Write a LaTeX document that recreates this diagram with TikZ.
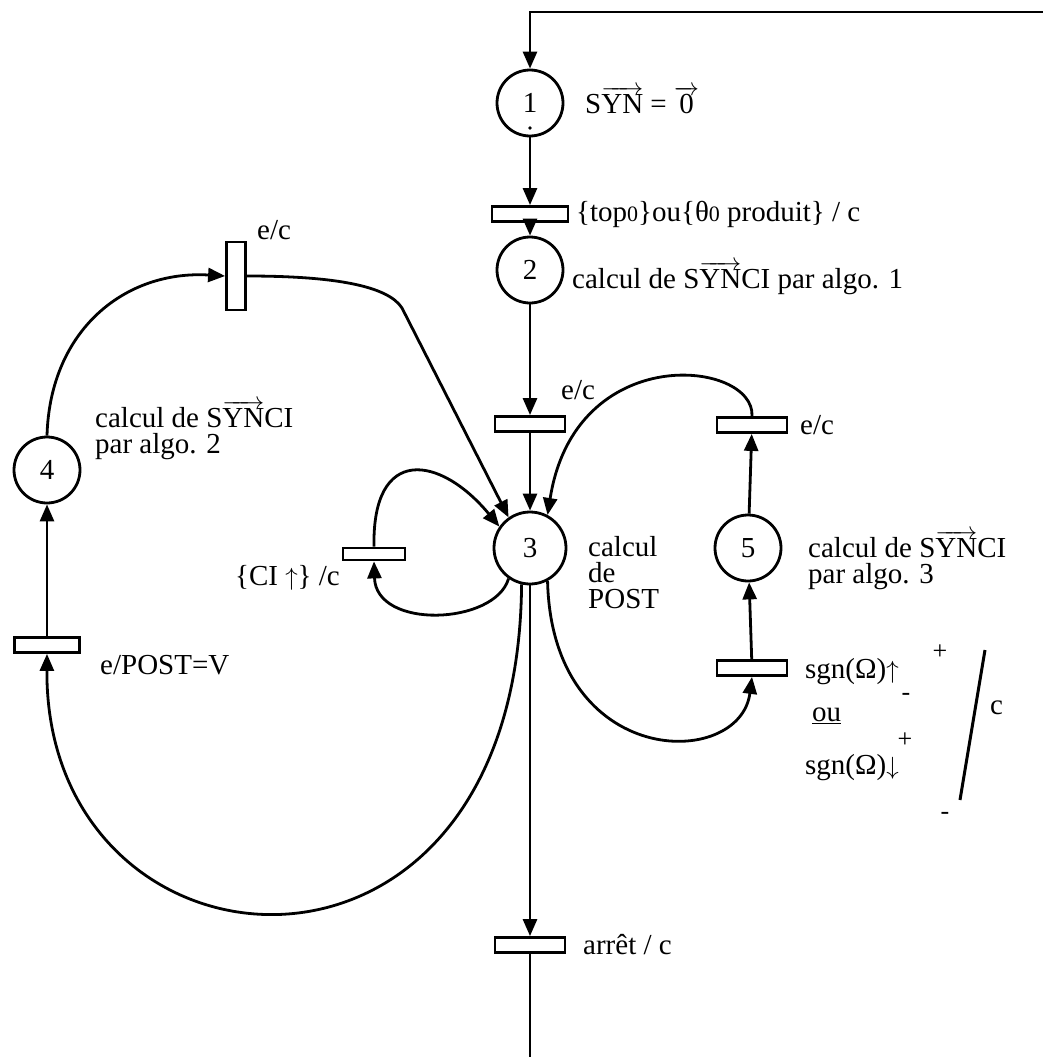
\documentclass[tikz,border=0pt]{standalone}
\usepackage{fontspec}
\setmainfont{Liberation Serif}
\usetikzlibrary{arrows.meta}
\tikzset{
  place/.style={circle, draw, line width=2.8pt, minimum size=66pt, inner sep=0pt,
                font=\fontsize{29}{29}\selectfont},
  transition/.style={rectangle, draw, line width=2.8pt, fill=white,
                     minimum width=70pt, minimum height=15pt, inner sep=0pt},
  vtransition/.style={transition, minimum width=19pt, minimum height=68pt},
  flow/.style={-{Triangle[length=17pt,width=14pt]}, line width=2.8pt},
  lbl/.style={font=\fontsize{29}{26}\selectfont, inner sep=0pt, align=left, anchor=west},
  sign/.style={font=\fontsize{26}{26}\selectfont, inner sep=0pt}
}
\newcommand{\vsyn}{S$\overrightarrow{\hbox{YN}}$}
\newcommand{\smallzero}{{\fontsize{22}{22}\selectfont 0}}

\begin{document}
\begin{tikzpicture}[x=1pt,y=-1pt]
  \useasboundingbox (0,0) rectangle (1043,1057);

  % places
  \node[place] (p1) at (530,103) {1};
  \node[circle, fill, inner sep=1.3pt] (tok1) at (530,128) {};
  \node[place] (p2) at (530,270) {2};
  \node[place, minimum size=72pt] (p3) at (530,548) {3};
  \node[place] (p4) at (47,470) {4};
  \node[place] (p5) at (748,548) {5};

  % transitions
  \node[transition, minimum width=76pt] (t1) at (530,214) {};
  \node[transition] (t2) at (530,424) {};
  \node[transition] (t5a) at (752,425) {};
  \node[transition] (t5b) at (752,668) {};
  \node[transition, minimum width=62pt, minimum height=12pt] (tci) at (374,554) {};
  \node[transition, minimum width=65pt] (t4) at (47,645) {};
  \node[vtransition] (t6) at (236,276) {};
  \node[transition] (t7) at (530,945) {};

  % main line
  \coordinate (back) at (1043,12);
  \coordinate (backdown) at (530,12);
  \coordinate (out) at (530,1057);
  \draw[flow] (back) -- (backdown) -- (p1);
  \draw[flow] (p1) -- (t1);
  \draw[flow] (t1) -- (p2);
  \draw[flow] (p2) -- (t2);
  \draw[flow] (t2) -- (p3);
  \draw[flow] (p3) -- (t7);
  \draw[line width=2.8pt] (t7) -- (out);

  % right branch
  \draw[flow] (p5) -- (t5a);
  \draw[flow] (t5b) -- (p5);
  \draw[flow] (t5a.north) .. controls (755,360) and (575,340) .. (p3.62);
  \draw[flow] (p3.-62) .. controls (552,770) and (740,770) .. (t5b.south);

  % CI loop
  \draw[flow] (tci.north) .. controls (372,445) and (440,455) .. (p3.145);
  \draw[flow] (p3.235) .. controls (495,625) and (376,630) .. (tci.south);

  % left branch
  \draw[flow] (p3.257) .. controls (518,1030) and (45,990) .. (t4.south);
  \draw[flow] (t4) -- (p4);
  \draw[flow] (p4.north) .. controls (50,330) and (125,270) .. (t6.west);
  \coordinate (kink) at (402,308);
  \draw[flow] (t6.east) .. controls (335,276) and (388,286) .. (kink) -- (p3.125);

  % labels
  \node[lbl] (lp1) at (585,100) {\vsyn{} = $\overrightarrow{\hbox{0}}$};
  \node[lbl] (lt1) at (576,214) {\{top\smallzero\}ou\{θ\smallzero\ produit\} / c};
  \node[lbl] (lp2) at (572,278) {calcul de \vsyn CI par algo. 1};
  \node[lbl] (lt2) at (561,390) {e/c};
  \node[lbl] (lt5a) at (800,425) {e/c};
  \node[lbl] (lt6) at (257,230) {e/c};
  \node[lbl] (lp3) at (588,573) {calcul\\de\\POST};
  \node[lbl] (lp5) at (808,560) {calcul de \vsyn CI\\par algo. 3};
  \node[lbl] (lp4) at (95,430) {calcul de \vsyn CI\\par algo. 2};
  \node[lbl, anchor=east] (ltci) at (340,578) {\{CI $\uparrow$\} /c};
  \node[lbl] (lt4) at (100,665) {e/POST=V};
  \node[lbl] (lt7) at (583,945) {arrêt / c};

  % sign condition
  \node[lbl] (sgn1) at (805,672) {sgn(Ω)$\uparrow$};
  \node[sign] (plus1) at (940,652) {+};
  \node[sign] (minus1) at (906,697) {-};
  \node[lbl] (sgnou) at (812,716) {\underline{ou}};
  \node[sign] (plus2) at (905,740) {+};
  \node[lbl] (sgn2) at (805,768) {sgn(Ω)$\downarrow$};
  \node[sign] (minus2) at (945,816) {-};
  \draw[line width=3pt] (985,650) -- (960,800);
  \node[lbl] (sgnc) at (990,708) {c};
\end{tikzpicture}
\end{document}
